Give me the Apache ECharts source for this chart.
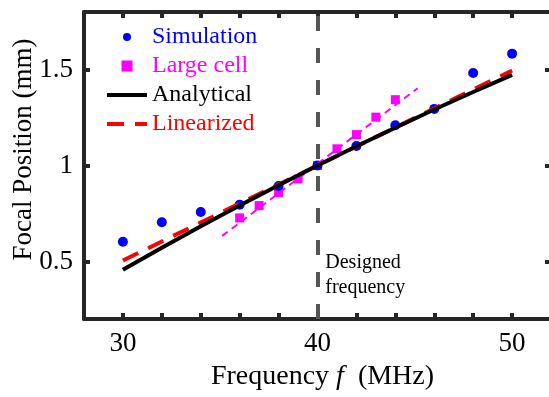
<!DOCTYPE html>
<html>
<head>
<meta charset="utf-8">
<script src="https://cdn.jsdelivr.net/npm/echarts@6/dist/echarts.min.js"></script>
<style>
  html, body { margin: 0; padding: 0; background: #fff; }
  #main { width: 549px; height: 397px; }
</style>
</head>
<body>
<div id="main"></div>
<script>
// values
const simFreq = [30, 32, 34, 36, 38, 40, 42, 44, 46, 48, 50];
const simPos = [0.603, 0.704, 0.758, 0.796, 0.893, 1.0, 1.102, 1.210, 1.295, 1.482, 1.583];

const cellFreq = [36, 37, 38, 39, 40, 41, 42, 43, 44];
const cellPos = [0.727, 0.791, 0.859, 0.930, 1.0, 1.087, 1.161, 1.252, 1.343];

const cellFitFreq = [35.1, 45.15];
const cellFitPos = [0.633, 1.403];

const anaFreq = [30, 32, 34, 36, 38, 40, 42, 44, 46, 48, 50];
const anaPos = [0.457, 0.571, 0.683, 0.791, 0.897, 1.0, 1.100, 1.197, 1.292, 1.383, 1.472];

const linFreq = [30, 40, 50];
const linPos = [0.505, 1.0, 1.495];

const designedFreq = 40;
const yTicks = [0.5, 1, 1.5];

const zip = (xs, ys) => xs.map((x, i) => [x, ys[i]]);

const FONT = 'Liberation Serif';
const AX = '#262626';

const chart = echarts.init(document.getElementById('main'));

const xBase = {
    type: 'value',
    min: 28,
    max: 52,
    interval: 2,
    axisLine: { lineStyle: { color: AX, width: 4 } },
    axisTick: { inside: true, length: 6, lineStyle: { color: AX, width: 4 } },
    splitLine: { show: false }
};
const yBase = {
    type: 'value',
    min: 0.2,
    max: 1.8,
    axisLine: { show: true, lineStyle: { color: AX, width: 4 } },
    axisTick: { show: true, inside: true, length: 6, customValues: yTicks, lineStyle: { color: AX, width: 4 } },
    splitLine: { show: false }
};

// legend glyphs: a small dot inside an 11px box, and an 11px square
const dotIcon = 'path://M0,0M11,11M9.5,5.5A4,4,0,1,1,1.5,5.5A4,4,0,1,1,9.5,5.5Z';
const squareIcon = 'path://M0,0H11V11H0Z';
const noDot = { color: 'rgba(0,0,0,0)', opacity: 0, borderWidth: 0 };

chart.setOption({
    animation: false,
    grid: { left: 84, top: 12, width: 467, height: 307, outerBoundsMode: 'none', containLabel: false },
    xAxis: [
        Object.assign({}, xBase, {
            position: 'bottom',
            name: 'Frequency {i|f}  (MHz)',
            nameLocation: 'middle',
            nameGap: 44,
            nameTextStyle: {
                fontFamily: FONT, fontSize: 28, color: '#000', padding: [0, 0, 0, 10],
                rich: { i: { fontFamily: FONT, fontSize: 28, fontStyle: 'italic', color: '#000' } }
            },
            axisLabel: {
                margin: 11,
                fontFamily: FONT, fontSize: 27, color: '#000',
                formatter: (v) => (v % 10 === 0 ? String(v) : '')
            }
        }),
        Object.assign({}, xBase, {
            position: 'top',
            axisLabel: { show: false }
        })
    ],
    yAxis: [
        Object.assign({}, yBase, {
            position: 'left',
            name: 'Focal Position (mm)',
            nameLocation: 'middle',
            nameGap: 47,
            nameMoveOverlap: false,
            nameTextStyle: { fontFamily: FONT, fontSize: 27, color: '#000', padding: [0, 0, 0, 32] },
            axisLabel: {
                margin: 11,
                customValues: yTicks,
                fontFamily: FONT, fontSize: 27, color: '#000'
            }
        }),
        Object.assign({}, yBase, {
            position: 'right',
            axisLabel: { show: false }
        })
    ],
    legend: {
        orient: 'vertical',
        left: 105,
        top: 25,
        padding: 0,
        itemGap: 5,
        itemWidth: 40,
        itemHeight: 11,
        symbolKeepAspect: true,
        textStyle: { fontFamily: FONT, fontSize: 24 },
        data: [
            { name: 'Simulation', icon: dotIcon, textStyle: { color: '#0000ff' } },
            { name: 'Large cell', icon: squareIcon, textStyle: { color: '#ff00ff' } },
            { name: 'Analytical', textStyle: { color: '#000' }, itemStyle: noDot,
              lineStyle: { color: '#000', width: 4 } },
            { name: 'Linearized', textStyle: { color: '#ff0000' }, itemStyle: noDot,
              lineStyle: { color: '#ff0000', width: 4, type: [17, 11] } }
        ]
    },
    series: [
        {
            name: 'cellFit',
            type: 'line',
            data: zip(cellFitFreq, cellFitPos),
            symbol: 'none',
            lineStyle: { color: '#ff00ff', width: 2, type: [7, 5] },
            markLine: {
                silent: true,
                symbol: ['none', 'none'],
                label: { show: false },
                lineStyle: { color: '#555', width: 4, type: [15, 17] },
                data: [{ xAxis: designedFreq }]
            }
        },
        {
            name: 'Linearized',
            type: 'line',
            data: zip(linFreq, linPos),
            symbol: 'none',
            itemStyle: { color: '#ff0000' },
            lineStyle: { color: '#ff0000', width: 4, type: [17, 11] }
        },
        {
            name: 'Analytical',
            type: 'line',
            data: zip(anaFreq, anaPos),
            symbol: 'none',
            itemStyle: { color: '#000' },
            lineStyle: { color: '#000', width: 4 }
        },
        {
            name: 'Large cell',
            type: 'scatter',
            data: zip(cellFreq, cellPos),
            symbol: 'rect',
            symbolSize: 9,
            itemStyle: { color: '#ff00ff', opacity: 1 }
        },
        {
            name: 'Simulation',
            type: 'scatter',
            data: zip(simFreq, simPos),
            symbol: 'circle',
            symbolSize: 10,
            itemStyle: { color: '#0000ff', opacity: 1 }
        }
    ]
});

// annotation next to the design-frequency line, placed through the axes
const anchor = chart.convertToPixel({ xAxisIndex: 0, yAxisIndex: 0 }, [40.4, 0.557]);
chart.setOption({
    graphic: [{
        type: 'text',
        x: anchor[0],
        y: anchor[1],
        silent: true,
        style: {
            text: 'Designed\nfrequency',
            fontFamily: FONT,
            fontSize: 20,
            lineHeight: 25,
            fill: '#000',
            align: 'left',
            verticalAlign: 'top'
        }
    }]
});
</script>
</body>
</html>
